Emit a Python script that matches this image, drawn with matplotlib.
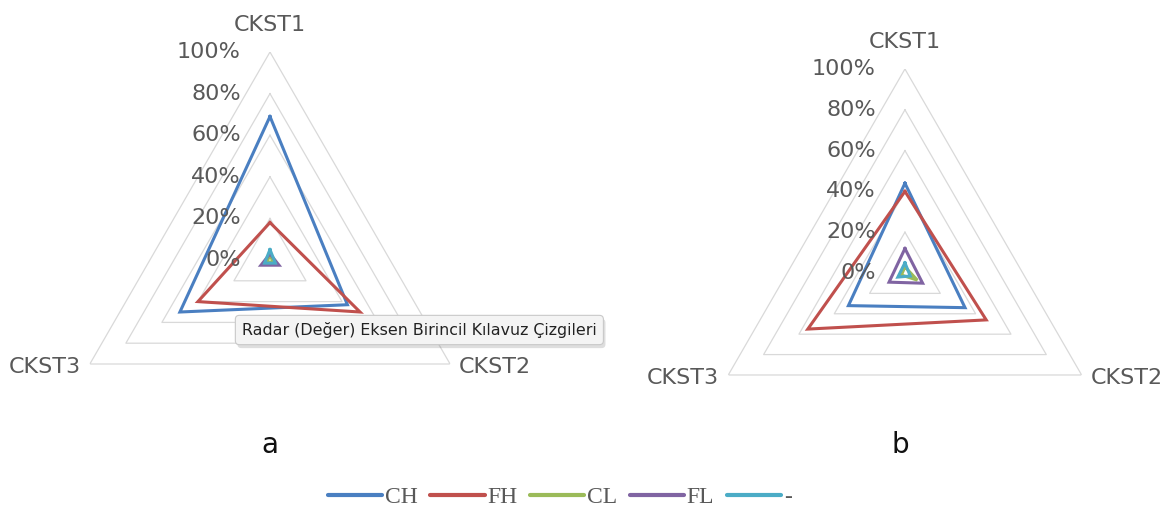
import numpy as np
import matplotlib
matplotlib.use("Agg")
import matplotlib.pyplot as plt
from matplotlib.lines import Line2D
from matplotlib import patheffects

# data (percent)
categories = ["CKST1", "CKST2", "CKST3"]
series_names = ["CH", "FH", "CL", "FL", "-"]

a_ch = [69, 43, 50]
a_fh = [18, 50, 40]
a_cl = [2, 2, 2]
a_fl = [3, 5, 5]
a_dash = [5, 3, 3]

b_ch = [44, 34, 32]
b_fh = [40, 46, 55]
b_cl = [3, 7, 2]
b_fl = [12, 10, 9]
b_dash = [5, 3, 4]

grid_levels = [20, 40, 60, 80, 100]
tick_levels = [0, 20, 40, 60, 80, 100]

colors = ["#4a7fc1", "#c0504d", "#9bbb59", "#8064a2", "#4bacc6"]
GRID = "#d9d9d9"
TXT = "#595959"
LW = 2.2


def radar(ax, values_list):
    n = len(categories)
    angles = np.arange(n) * 2 * np.pi / n
    closed = np.append(angles, angles[0])

    ax.set_theta_offset(np.pi / 2)
    ax.set_theta_direction(-1)
    ax.set_ylim(0, 100)
    ax.set_xticks([])
    ax.set_yticks([])
    ax.grid(False)
    ax.spines["polar"].set_visible(False)
    ax.patch.set_alpha(0)

    for lev in grid_levels:
        ax.plot(closed, [lev] * (n + 1), color=GRID, lw=0.9, zorder=1)

    for vals, c in zip(values_list, colors):
        ax.plot(closed, vals + vals[:1], color=c, lw=LW, zorder=3,
                solid_joinstyle="miter")

    for lev in tick_levels:
        ax.annotate(f"{lev}%", xy=(0, lev), xytext=(-21, 0),
                    textcoords="offset points", ha="right", va="center",
                    fontsize=16, color=TXT)

    offsets = [((0, 19.5), "center"), ((6.5, -2.5), "left"), ((-6.5, -2.5), "right")]
    for ang, cat, (off, ha) in zip(angles, categories, offsets):
        ax.annotate(cat, xy=(ang, 100), xytext=off, textcoords="offset points",
                    ha=ha, va="center", fontsize=16, color=TXT)


fig = plt.figure(figsize=(11.71, 5.14), dpi=100, facecolor="white")

ax_a = fig.add_axes([0.0529, 0.0895, 0.3553, 0.8093], projection="polar")
radar(ax_a, [a_ch, a_fh, a_cl, a_fl, a_dash])

ax_b = fig.add_axes([0.5986, 0.072, 0.3484, 0.7938], projection="polar")
radar(ax_b, [b_ch, b_fh, b_cl, b_fl, b_dash])

fig.text(270 / 1171, 1 - 445 / 514, "a", ha="center", va="center",
         fontsize=20, color="#111111")
fig.text(900 / 1171, 1 - 445 / 514, "b", ha="center", va="center",
         fontsize=20, color="#111111")

# tooltip left over from the screenshot
tip = fig.text(242 / 1171, 1 - 330 / 514,
               "Radar (Değer) Eksen Birincil Kılavuz Çizgileri",
               ha="left", va="center", fontsize=11.4, color="#222222",
               bbox=dict(boxstyle="round,pad=0.42,rounding_size=0.25",
                         facecolor="#f4f4f4", edgecolor="#c9c9c9", lw=0.8),
               zorder=10)
tip.get_bbox_patch().set_path_effects(
    [patheffects.withSimplePatchShadow(offset=(1.5, -2.5), alpha=0.18)])

handles = [Line2D([], [], color=c, lw=3, solid_capstyle="round")
           for c in colors]
fig.legend(handles, series_names, loc="center", ncol=5,
           bbox_to_anchor=(0.478, 1 - 497 / 514), frameon=False,
           prop={"family": "Liberation Serif", "size": 17},
           labelcolor=TXT, handlelength=2.3, handletextpad=0.1,
           columnspacing=0.55)

fig.savefig("out.png", dpi=100, facecolor="white")
